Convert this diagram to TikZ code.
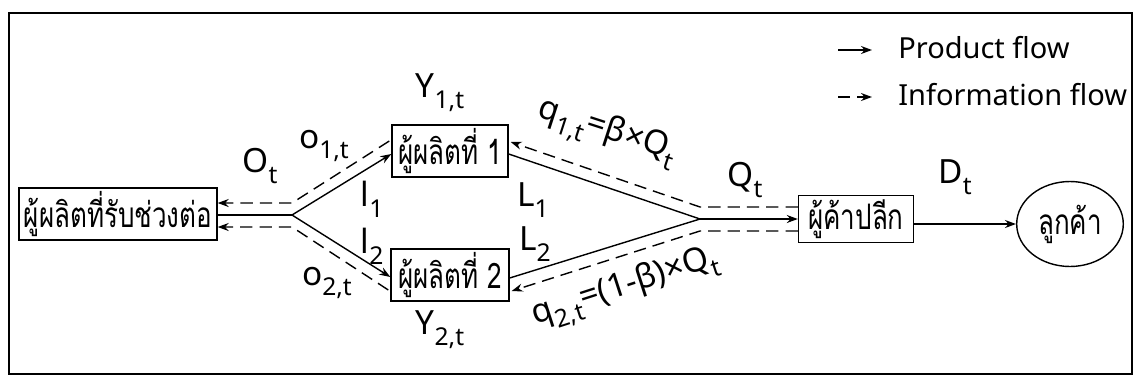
\documentclass[tikz,border=0pt]{standalone}
\usepackage{graphicx}
\usepackage{fontspec}
\setmainfont{Noto Sans}
\newfontfamily\thaifont[Script=Thai]{Loma}
\usetikzlibrary{arrows.meta,positioning,calc,shapes.geometric}
\newcommand{\lsub}[1]{\raisebox{-0.6ex}{\fontsize{14}{14}\selectfont #1}}
\newcommand{\thai}[1]{\scalebox{0.74}[1]{\thaifont\fontsize{20}{22}\selectfont #1}}

\begin{document}
\begin{tikzpicture}[x=0.02cm,y=-0.02cm,font=\fontsize{19}{22}\selectfont,>={Stealth[length=2.2mm,width=1.6mm]}]
  \tikzset{
    box/.style={draw, line width=0.8pt, minimum height=0.94cm, inner sep=2pt},
    prod/.style={line width=0.8pt},
    info/.style={line width=0.8pt, dash pattern=on 7pt off 4pt},
    lbl/.style={inner sep=1pt},
    legtext/.style={anchor=west, inner sep=0pt, font=\fontsize{16.5}{20}\selectfont}
  }
  \useasboundingbox (0,0) rectangle (1137,386);
  \draw[line width=1.2pt] (9,13) rectangle (1132,374);

  % actors
  \node[box,minimum width=3.96cm] (sub) at (118,214) {\thai{ผู้ผลิตที่รับช่วงต่อ}};
  \node[box,minimum width=2.32cm] (p1) at (450,151) {\thai{ผู้ผลิตที่ 1}};
  \node[box,minimum width=2.36cm] (p2) at (450,275) {\thai{ผู้ผลิตที่ 2}};
  \node[box,minimum width=2.3cm] (ret) at (856,219) {\thai{ผู้ค้าปลีก}};
  \node[draw,ellipse,line width=0.8pt,minimum width=2.1cm,minimum height=1.7cm] (cus) at (1070,224) {\thai{ลูกค้า}};

  % fork points
  \coordinate (lf) at (292,215);
  \coordinate (lfu) at (292,203);
  \coordinate (lfd) at (292,227);
  \coordinate (rf) at (700,219);
  \coordinate (rfu) at (700,207);
  \coordinate (rfd) at (700,231);

  % product flow
  \draw[prod] (sub.east |- lf) -- (lf);
  \draw[prod,->] (lf) -- ($(p1.west)+(0,3)$);
  \draw[prod,->] (lf) -- ($(p2.west)+(0,2)$);
  \draw[prod] ($(p1.east)+(0,3)$) -- (rf);
  \draw[prod] ($(p2.east)+(0,3)$) -- (rf);
  \draw[prod,->] (rf) -- (ret.west |- rf);
  \draw[prod,->] (ret.east |- cus) -- (cus);

  % information flow
  \draw[info,->] ($(p1.west)+(-2,-10)$) -- (lfu) -- (sub.east |- lfu);
  \draw[info,->] ($(p2.west)+(-2,15)$) -- (lfd) -- (sub.east |- lfd);
  \draw[info,->] (ret.west |- rfu) -- (rfu) -- ($(p1.east)+(2,-9)$);
  \draw[info,->] (ret.west |- rfd) -- (rfd) -- ($(p2.east)+(2,16)$);

  % labels
  \node[lbl] (ot) at (260,166) {O\lsub{t}};
  \node[lbl] (o1) at (324,146) {o\lsub{1,t}};
  \node[lbl] (o2) at (327,283) {o\lsub{2,t}};
  \node[lbl] (l1) at (372,199) {l\lsub{1}};
  \node[lbl] (l2) at (372,246) {l\lsub{2}};
  \node[lbl] (y1) at (440,93) {Y\lsub{1,t}};
  \node[lbl] (y2) at (440,330) {Y\lsub{2,t}};
  \node[lbl] (L1) at (533,200) {L\lsub{1}};
  \node[lbl] (L2) at (535,244) {L\lsub{2}};
  \node[lbl,rotate=-18] (q1) at (607,133) {q\lsub{1,t}=β×Q\lsub{t}};
  \node[lbl,rotate=18] (q2) at (626,289) {q\lsub{2,t}=(1-β)×Q\lsub{t}};
  \node[lbl] (qt) at (745,180) {Q\lsub{t}};
  \node[lbl] (dt) at (955,177) {D\lsub{t}};

  % legend
  \coordinate (pa) at (838,50);
  \coordinate (pb) at (872,50);
  \coordinate (ia) at (838,97);
  \coordinate (ib) at (872,97);
  \draw[prod,->] (pa) -- (pb);
  \draw[info,->] (ia) -- (ib);
  \node[legtext] (pl) at (898,48) {Product flow};
  \node[legtext] (il) at (898,95) {Information flow};
\end{tikzpicture}
\end{document}
